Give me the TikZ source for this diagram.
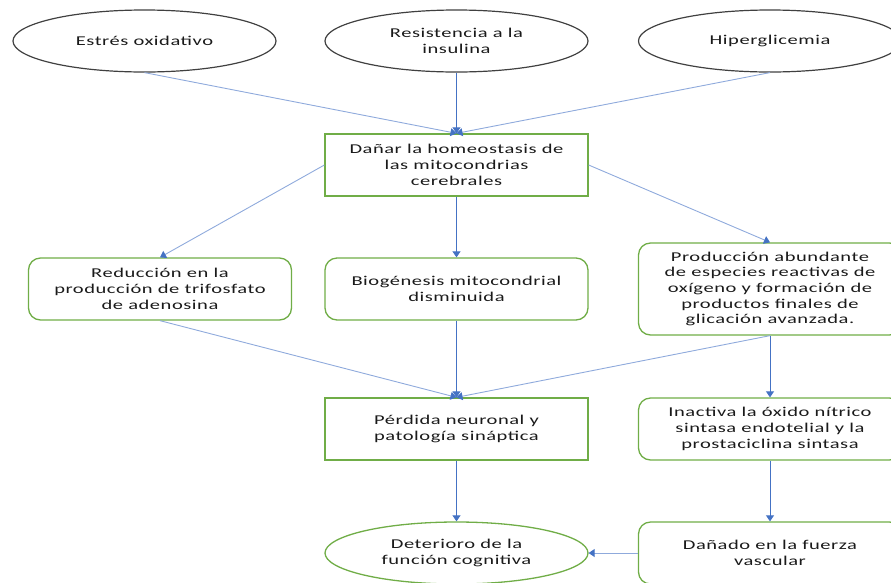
\documentclass[tikz,border=0pt]{standalone}
\usepackage{fontspec}
\setmainfont[FakeStretch=1.52,LetterSpace=4]{Carlito}
\usepackage{xcolor}
\usetikzlibrary{arrows.meta,shapes.geometric}
\definecolor{arrowblue}{HTML}{4472C4}
\definecolor{paleblue}{HTML}{8FAADC}
\definecolor{boxgreen}{HTML}{70AD47}
\definecolor{inkgray}{HTML}{1A1A1A}
\tikzset{
	every node/.style={font=\fontsize{13.5}{15.7}\selectfont, text=inkgray, align=center},
	cause/.style={ellipse, draw=black!75, line width=1.2pt, minimum width=263pt, minimum height=62pt, inner sep=0pt},
	effect/.style={draw=boxgreen, line width=1.3pt, minimum width=263pt, minimum height=62pt, inner sep=0pt},
	roundeffect/.style={effect, rounded corners=12pt},
	outcome/.style={ellipse, draw=boxgreen, line width=1.3pt, minimum width=263pt, minimum height=62pt, inner sep=0pt},
	link/.style={draw=arrowblue, line width=0.9pt, -{Triangle[width=8pt,length=6pt,color=arrowblue]}},
	palelink/.style={link, draw=paleblue}
}

\begin{document}
\begin{tikzpicture}[x=1pt,y=-1pt]
	\useasboundingbox (0,0) rectangle (891,582);
	\node[cause] (estres) at (144.5,41) {Estrés oxidativo};
	\node[cause] (resist) at (456.5,41) {Resistencia a la\\insulina};
	\node[cause] (hiper) at (770,41) {Hiperglicemia};

	\node[effect] (danar) at (456.5,165) {Dañar la homeostasis de\\las mitocondrias\\cerebrales};

	\node[roundeffect] (reduc) at (160,289) {Reducción en la\\producción de trifosfato\\de adenosina};
	\node[roundeffect] (biogen) at (456.5,289) {Biogénesis mitocondrial\\disminuida};
	\node[roundeffect, minimum height=92pt] (produc) at (770,289) {Producción abundante\\de especies reactivas de\\oxígeno y formación de\\productos finales de\\glicación avanzada.};

	\node[effect] (perdida) at (456.5,429) {Pérdida neuronal y\\patología sináptica};
	\node[roundeffect] (inact) at (770,429) {Inactiva la óxido nítrico\\sintasa endotelial y la\\prostaciclina sintasa};

	\node[outcome] (deter) at (456.5,553) {Deterioro de la\\función cognitiva};
	\node[roundeffect] (danado) at (770,553) {Dañado en la fuerza\\vascular};

	\draw[palelink] (estres.south) -- (danar.north);
	\draw[link] (resist.south) -- (danar.north);
	\draw[palelink] (hiper.south) -- (danar.north);

	\draw[palelink] (danar.west) -- (reduc.north);
	\draw[link] (danar.south) -- (biogen.north);
	\draw[palelink] (danar.east) -- (produc.north);

	\draw[palelink] (reduc.south) -- (perdida.north);
	\draw[link] (biogen.south) -- (perdida.north);
	\draw[palelink] (produc.south) -- (perdida.north);
	\draw[link] (produc.south) -- (inact.north);

	\draw[link] (perdida.south) -- (deter.north);
	\draw[link] (inact.south) -- (danado.north);
	\draw[palelink] (danado.west) -- (deter.east);
\end{tikzpicture}
\end{document}
